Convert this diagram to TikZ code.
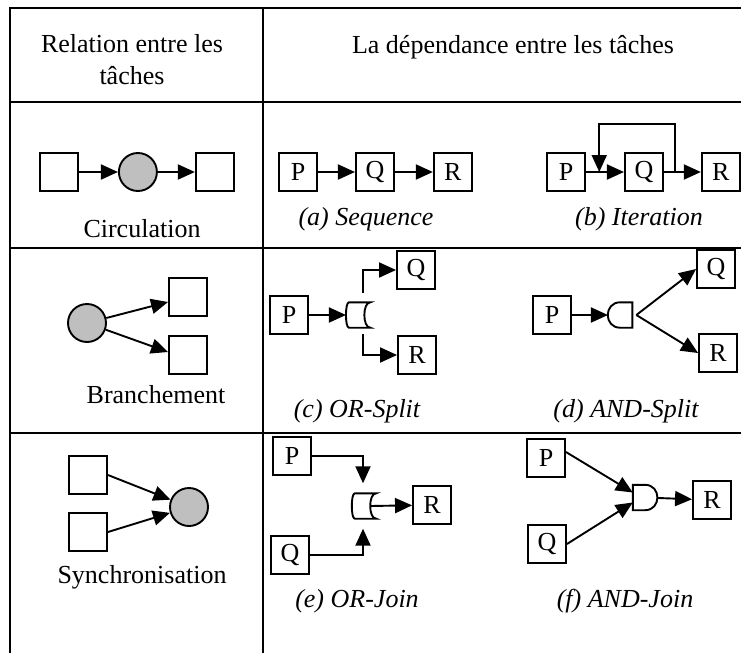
\documentclass[tikz,border=0pt]{standalone}
\usepackage{fontspec}
\setmainfont{Liberation Serif}
\usetikzlibrary{arrows.meta,positioning,calc}
\tikzset{%
tasknode/.style={draw, line width=1.9pt, minimum size=38pt, inner sep=0pt, font=\fontsize{26}{30}\selectfont},
blanknode/.style={draw, line width=1.9pt, minimum size=38pt, inner sep=0pt},
roundnode/.style={circle, draw, line width=1.9pt, fill=gray!50, minimum size=38pt, inner sep=0pt},
gatenode/.style={minimum width=24pt, minimum height=25pt, inner sep=0pt},
flow/.style={line width=1.9pt, -{Triangle[length=17pt,width=15pt]}},
gl/.style={line width=1.9pt},
rule/.style={line width=2pt},
lab/.style={font=\fontsize{26}{32}\selectfont, anchor=base},
capt/.style={font=\fontsize{26}{32}\selectfont\itshape, anchor=base}
}
% gate outlines
\newcommand{\orgate}[1]{\draw[gl] ([xshift=3pt]#1.north west) -- (#1.north east)
  .. controls ([xshift=-8pt]#1.north east) and ([xshift=-8pt]#1.south east) .. (#1.south east)
  -- ([xshift=3pt]#1.south west)
  .. controls ([xshift=-1pt]#1.south west) and ([xshift=-1pt]#1.north west) .. cycle;}
\newcommand{\andsplit}[1]{\draw[gl] (#1.north east) -- (#1.north)
  .. controls ([xshift=-16.5pt]#1.north) and ([xshift=-16.5pt]#1.south) .. (#1.south)
  -- (#1.south east) -- cycle;}
\newcommand{\andjoin}[1]{\draw[gl] (#1.north west) -- (#1.north)
  .. controls ([xshift=16.5pt]#1.north) and ([xshift=16.5pt]#1.south) .. (#1.south)
  -- (#1.south west) -- cycle;}

\begin{document}
\begin{tikzpicture}[x=1pt, y=-1pt]
	\useasboundingbox (0,0) rectangle (741,653);
	% table
	\draw[rule] (10,653) -- (10,8) -- (741,8);
	\draw[rule] (263,8) -- (263,653);
	\foreach \y in {102,248,433} \draw[rule] (10,\y) -- (741,\y);

	\node[font=\fontsize{26}{32}\selectfont, align=center] (hL) at (132,60) {Relation entre les\\tâches};
	\node[lab] (hR) at (513,53) {La dépendance entre les tâches};

	% left column
	\node[blanknode] (s1) at (59,172) {};
	\node[roundnode, right=39pt of s1] (c1) {};
	\node[blanknode, right=37pt of c1] (s2) {};
	\path[flow] (s1) edge (c1);
	\path[flow] (c1) edge (s2);
	\node[lab] (l1) at (142,237) {Circulation};

	\node[roundnode] (c2) at (87,323) {};
	\node[blanknode] (s3) at (188,297) {};
	\node[blanknode] (s4) at (188,355) {};
	\draw[flow] (c2) -- ([yshift=-5pt]s3.west);
	\draw[flow] (c2) -- ([yshift=3pt]s4.west);
	\node[lab] (l2) at (156,403) {Branchement};

	\node[blanknode] (s5) at (88,475) {};
	\node[blanknode] (s6) at (88,532) {};
	\node[roundnode] (c3) at (189,507) {};
	\draw[flow] (s5.east) -- (c3);
	\draw[flow] (s6.east) -- (c3);
	\node[lab] (l3) at (142,583) {Synchronisation};

	% (a) sequence
	\node[tasknode] (aP) at (298,172) {P};
	\node[tasknode, right=37pt of aP] (aQ) {Q};
	\node[tasknode, right=38pt of aQ] (aR) {R};
	\path[flow] (aP) edge (aQ);
	\path[flow] (aQ) edge (aR);
	\node[capt] (aC) at (366,225) {(a) Sequence};

	% (b) iteration
	\node[tasknode] (bP) at (566,172) {P};
	\node[tasknode, right=38pt of bP] (bQ) {Q};
	\node[tasknode, right=37pt of bQ] (bR) {R};
	\path[flow] (bP) edge (bQ);
	\path[flow] (bQ) edge (bR);
	\coordinate (bA) at ($(bQ.east)!0.3!(bR.west)$);
	\coordinate (bB) at ($(bP.east)!0.35!(bQ.west)$);
	\draw[flow] (bA) -- ([yshift=48pt]bA) -| (bB);
	\node[capt] (bC) at (639,225) {(b) Iteration};

	% (c) OR-split
	\node[tasknode] (cP) at (289,315) {P};
	\node[gatenode, right=37pt of cP] (cG) {};
	\orgate{cG}
	\node[tasknode] (cQ) at (416,270) {Q};
	\node[tasknode] (cR) at (417,355) {R};
	\path[flow] (cP) edge (cG);
	\coordinate (cU) at ([xshift=5pt,yshift=9pt]cG.north);
	\coordinate (cD) at ([xshift=5pt,yshift=-6pt]cG.south);
	\draw[flow] (cU) |- (cQ);
	\draw[flow] (cD) |- (cR);
	\node[capt] (cC) at (357,417) {(c) OR-Split};

	% (d) AND-split
	\node[tasknode] (dP) at (552,315) {P};
	\node[gatenode, right=36pt of dP] (dG) {};
	\andsplit{dG}
	\node[tasknode] (dQ) at (716,269) {Q};
	\node[tasknode] (dR) at (718,353) {R};
	\path[flow] (dP) edge (dG);
	\coordinate (dV) at ([xshift=4pt]dG.east);
	\draw[flow] (dV) -- (dQ.west);
	\draw[flow] (dV) -- (dR.west);
	\node[capt] (dC) at (626,417) {(d) AND-Split};

	% (e) OR-join
	\node[tasknode] (eP) at (292,456) {P};
	\node[tasknode] (eQ) at (290,555) {Q};
	\node[gatenode] (eG) at (364,506) {};
	\orgate{eG}
	\node[tasknode] (eR) at (432,505) {R};
	\coordinate (eT) at ([xshift=-1pt,yshift=10pt]eG.north);
	\coordinate (eB) at ([xshift=-1pt,yshift=-10pt]eG.south);
	\draw[flow] (eP.east) -| (eT);
	\draw[flow] (eQ.east) -| (eB);
	\draw[flow] ([xshift=-6pt]eG.east) -- (eR);
	\node[capt] (eC) at (357,607) {(e) OR-Join};

	% (f) AND-join
	\node[tasknode] (fP) at (546,458) {P};
	\node[tasknode] (fQ) at (547,544) {Q};
	\node[gatenode] (fG) at (645,497.5) {};
	\andjoin{fG}
	\node[tasknode] (fR) at (712,500) {R};
	\draw[flow] ([yshift=6pt]fP.east) -- ([yshift=5pt]fG.west);
	\draw[flow] (fQ.east) -- ([yshift=-5pt]fG.west);
	\path[flow] (fG) edge (fR);
	\node[capt] (fC) at (625,607) {(f) AND-Join};
\end{tikzpicture}
\end{document}
